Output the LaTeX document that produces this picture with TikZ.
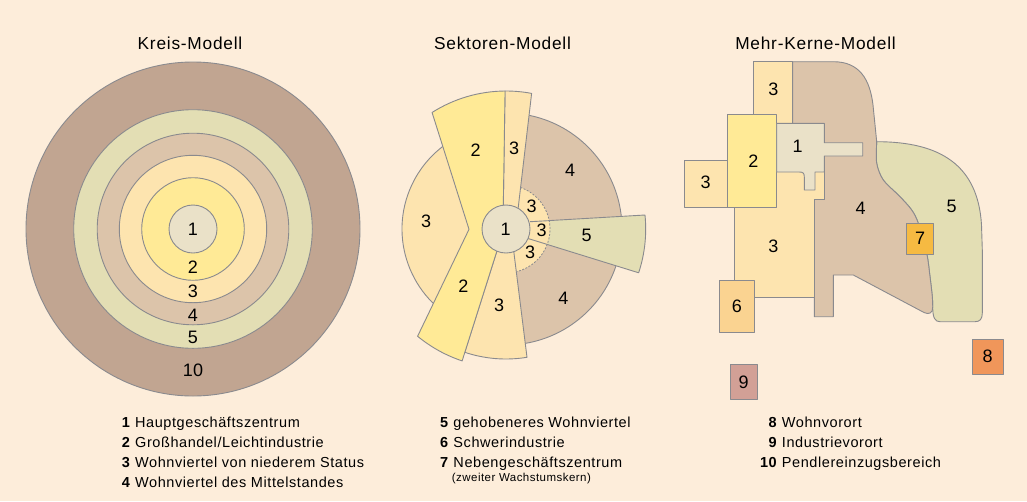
\documentclass[tikz,border=0pt]{standalone}
\usepackage{fontspec}
\setmainfont{Liberation Sans}
\newfontfamily\titlefont{Liberation Sans}[LetterSpace=4.5]
\newfontfamily\legfont{Liberation Sans}[LetterSpace=4]
\usetikzlibrary{calc}
\definecolor{bg}{RGB}{253,237,218}
\definecolor{lgray}{RGB}{138,138,142}
\definecolor{cA}{RGB}{234,225,200}
\definecolor{cB}{RGB}{255,234,150}
\definecolor{cC}{RGB}{253,228,175}
\definecolor{cD}{RGB}{220,196,170}
\definecolor{cE}{RGB}{227,222,180}
\definecolor{cJ}{RGB}{193,165,145}
\definecolor{cF}{RGB}{250,211,145}
\definecolor{cG}{RGB}{246,186,66}
\definecolor{cH}{RGB}{240,150,90}
\definecolor{cI}{RGB}{210,160,150}
\tikzset{
  zone/.style={draw=lgray, line width=0.9pt, line join=round},
  num/.style={font=\fontsize{18}{20}\selectfont, inner sep=0pt},
  ttl/.style={font=\titlefont\fontsize{17.3}{20}\selectfont, anchor=base, inner sep=0pt},
  leg/.style={font=\legfont\fontsize{14.5}{16}\selectfont, anchor=base west, inner sep=0pt},
  legsmall/.style={font=\legfont\fontsize{11.5}{13}\selectfont, anchor=base west, inner sep=0pt},
  box/.style={zone, inner sep=0pt, font=\fontsize{18}{20}\selectfont},
}
\begin{document}
\begin{tikzpicture}[x=1pt,y=-1pt]
\useasboundingbox (0,0) rectangle (1027,501);
\fill[bg] (0,0) rectangle (1027,501);

% ---------------- Titles
\node[ttl] (t1) at (190,49) {Kreis-Modell};
\node[ttl] (t2) at (502.5,49) {Sektoren-Modell};
\node[ttl] (t3) at (815.5,49) {Mehr-Kerne-Modell};

% ---------------- Kreis-Modell
\coordinate (K) at (193,229);
\path[zone, fill=cJ] (K) circle[radius=167];
\path[zone, fill=cE] (K) circle[radius=119.3];
\path[zone, fill=cD] (K) circle[radius=95.8];
\path[zone, fill=cC] (K) circle[radius=73.7];
\path[zone, fill=cB] (K) circle[radius=51.3];
\path[zone, fill=cA] (K) circle[radius=24];
\node[num] (k1) at (193,229.3) {1};
\node[num] (k2) at (193,267.3) {2};
\node[num] (k3) at (193,291.7) {3};
\node[num] (k4) at (193,315) {4};
\node[num] (k5) at (193,337.3) {5};
\node[num] (k10) at (193,370.7) {10};

% ---------------- Sektoren-Modell
\coordinate (S) at (506,229);
\path[zone, fill=cC] (S) -- ($(S)+(115:104)$) arc[start angle=115, end angle=245, radius=104] -- cycle;
\path[zone, fill=cD] (S) -- ($(S)+(-80:116)$) arc[start angle=-80, end angle=-5, radius=116] -- cycle;
\path[zone, fill=cD] (S) -- ($(S)+(17:116)$) arc[start angle=17, end angle=82, radius=116] -- cycle;
\path[zone, fill=cE] (530,221.7) -- ($(S)+(-5.75:139.7)$) arc[start angle=-5.75, end angle=18.3, radius=139.5] -- (528,238.5) -- cycle;
\fill[cC] (S) -- ($(S)+(-71:44)$) arc[start angle=-71, end angle=75.6, radius=44] -- cycle;
\draw[lgray, line width=0.8pt, dash pattern=on 2pt off 1.5pt] ($(S)+(-71:44)$) arc[start angle=-71, end angle=75.6, radius=44];
\draw[zone] (530,221.7) -- (550,220.6);
\draw[zone] (528,238.5) -- (547.5,244.5);
\path[zone, fill=cC] ($(S)+(-90.4:138)$) arc[start angle=-90.4, end angle=-79.3, radius=138] -- (517.7,212) -- (503.2,212) -- cycle;
\path[zone, fill=cC] (513.1,246) -- ($(S)+(80.7:130)$) arc[start angle=80.7, end angle=108.5, radius=130] -- (498.5,246) -- cycle;
\path[zone, fill=cB] ($(S)+(-122.4:138)$) arc[start angle=-122.4, end angle=-90.4, radius=138] -- (503.2,212) -- (498.5,246) -- ($(S)+(108.4:139)$) arc[start angle=108.4, end angle=129.5, radius=139] -- (469,229.3) -- cycle;
\path[zone, fill=cA] (S) circle[radius=24];
\node[num] (s1) at (505.7,229.3) {1};
\node[num] (s2a) at (475.7,150) {2};
\node[num] (s3a) at (514,148.3) {3};
\node[num] (s4a) at (570,170) {4};
\node[num] (s3b) at (426,221.7) {3};
\node[num] (s3c) at (531.7,206) {3};
\node[num] (s3d) at (541.7,230.7) {3};
\node[num] (s3e) at (530,252.7) {3};
\node[num] (s5) at (586.7,235) {5};
\node[num] (s2b) at (463.3,286) {2};
\node[num] (s3f) at (499,305) {3};
\node[num] (s4b) at (563.3,298.3) {4};

% ---------------- Mehr-Kerne-Modell
\path[zone, fill=cE] (876.7,141.7) .. controls (940,141.7) and (978,165) .. (981.5,225) -- (982.3,250) -- (982.3,313)
  .. controls (982.3,319) and (980,321.7) .. (975,321.7) -- (940,321.7)
  .. controls (935,321.7) and (932.7,318) .. (932.7,306.7)
  -- plot[smooth] coordinates {(932.7,306.7) (932.3,296.7) (930,276.7) (926.7,253.3) (918.3,223.3) (911.7,210) (900,196.7) (883.3,180) (876.7,163.3) (876.7,141.7)} -- cycle;
\path[zone, fill=cD] (792.7,61.7) -- (833.3,61.7) .. controls (860,61.7) and (870,80) .. (873,105) -- (876.7,141.7)
  -- plot[smooth] coordinates {(876.7,141.7) (876.7,163.3) (883.3,180) (900,196.7) (911.7,210) (918.3,223.3) (926.7,253.3) (930,276.7) (932.3,296.7) (932.7,306.7)}
  .. controls (933,313) and (929,315) .. (924,312.5) -- (853.3,275) -- (833.3,275) -- (833.3,316.7) -- (814.3,316.7)
  -- (814.3,199.3) -- (824.3,199.3) -- (824.3,150) -- (792.7,150) -- cycle;
\path[zone, fill=cC] (753.3,61.7) rectangle (792.7,123.3);
\path[zone, fill=cC] (776.7,165) -- (824.3,165) -- (824.3,199.3) -- (814.3,199.3) -- (814.3,297.3) -- (734.3,297.3) -- (734.3,200) -- (776.7,200) -- cycle;
\path[zone, fill=cC] (684.3,160) rectangle (727.7,207.3);
\path[zone, fill=cB] (727.7,114.3) rectangle (776.7,207.3);
\path[zone, fill=cA] (776.7,123.3) -- (824.3,123.3) -- (824.3,142.7) -- (862.7,142.7) -- (862.7,156) -- (824.3,156) -- (824.3,172)
  -- (815,172) -- (815,190) -- (804.3,190) -- (804.3,177) .. controls (804.3,173) and (803,172) .. (799,172) -- (776.7,172) -- cycle;
\node[num] (m3a) at (773.3,89.3) {3};
\node[num] (m2) at (753.3,161.7) {2};
\node[num] (m3b) at (705.7,182.3) {3};
\node[num] (m1) at (797.5,146.5) {1};
\node[num] (m3c) at (773.3,246.7) {3};
\node[num] (m4) at (860.7,208.3) {4};
\node[num] (m5) at (951.7,206.7) {5};
\node[box, fill=cF, minimum width=35pt, minimum height=52.7pt] (m6) at (736.8,306.3) {6};
\node[box, fill=cG, minimum width=26.6pt, minimum height=31pt] (m7) at (920,238.8) {7};
\node[box, fill=cH, minimum width=31.3pt, minimum height=35pt] (m8) at (987.7,356.5) {8};
\node[box, fill=cI, minimum width=26.7pt, minimum height=35pt] (m9) at (743.7,381.8) {9};

% ---------------- Legend
\node[leg] (l1) at (121.7,427) {\textbf{1} Hauptgeschäftszentrum};
\node[leg] (l2) at (121.7,447) {\textbf{2} Großhandel/Leichtindustrie};
\node[leg] (l3) at (121.7,467.5) {\textbf{3} Wohnviertel von niederem Status};
\node[leg] (l4) at (121.7,487.5) {\textbf{4} Wohnviertel des Mittelstandes};
\node[leg] (l5) at (440,427) {\textbf{5} gehobeneres Wohnviertel};
\node[leg] (l6) at (440,447) {\textbf{6} Schwerindustrie};
\node[leg] (l7) at (440,467.5) {\textbf{7} Nebengeschäftszentrum};
\node[legsmall] (l7b) at (451.7,481) {(zweiter Wachstumskern)};
\node[leg] (l8) at (781.7,427) {\llap{\textbf{8} }Wohnvorort};
\node[leg] (l9) at (781.7,447) {\llap{\textbf{9} }Industrievorort};
\node[leg] (l10) at (781.7,467.5) {\llap{\textbf{10} }Pendlereinzugsbereich};
\end{tikzpicture}
\end{document}
